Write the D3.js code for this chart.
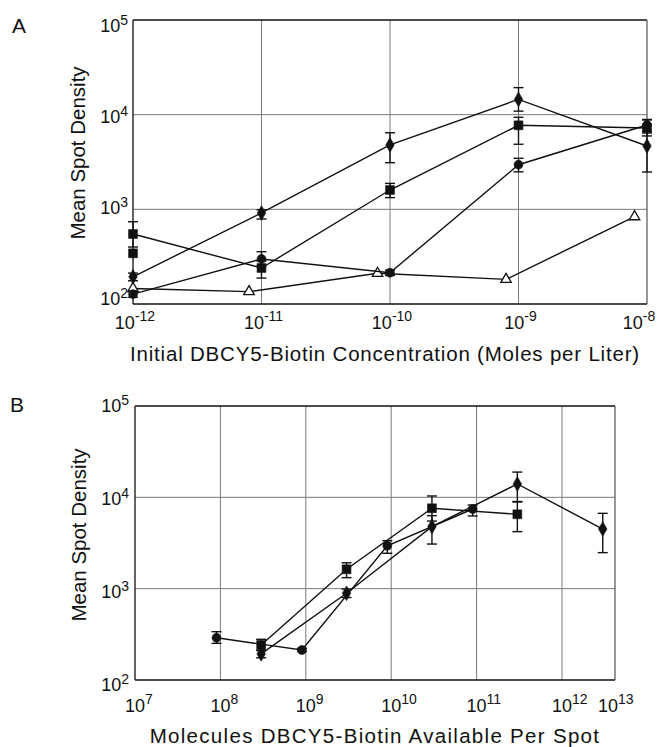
<!DOCTYPE html>
<html>
<head>
<meta charset="utf-8">
<script src="https://cdn.jsdelivr.net/npm/d3@7"></script>
<style>
  html, body { margin: 0; padding: 0; background: #fff; }
  svg { display: block; }
  text { font-family: "Liberation Sans", Arial, Helvetica, sans-serif; fill: #111; }
</style>
</head>
<body>
<svg id="chart" width="661" height="747"></svg>
<script>
// ---- Panel A: spot density vs. initial DBCY5-biotin concentration ----
const concA = [1e-12, 1e-11, 1e-10, 1e-9, 1e-8];
const concTriangleA = [1e-12, 8e-12, 8e-11, 8e-10, 8e-9];

const diamondA   = [194, 915, 4790, 14500, 4670];
const diamondALo = [176, 790, 3110, 10900, 2480];
const diamondAHi = [212, 990, 6440, 19300, 6680];

const squareA   = [549, 240, 1600, 7720, 7230];
const squareALo = [400, 188, 1330, 4870, 5960];
const squareAHi = [740, 285, 1880, 9380, 8790];

const circleA   = [127, 299, 214, 2960, 7780];
const circleALo = [118, 252, 200, 2490, 6400];
const circleAHi = [137, 357, 228, 3460, 8900];

const triangleA = [146, 135, 211, 182, 836];

const extraSquareConcA = [1e-12];
const extraSquareA = [343];

const xTickExpA = [-12, -11, -10, -9, -8];
const yTickExp = [2, 3, 4, 5];

// ---- Panel B: spot density vs. molecules available per spot ----
const molDiamondB = [3e8, 3e9, 3e10, 3e11, 3e12];
const diamondB   = [193, 890, 4780, 14000, 4500];
const diamondBLo = [175, 800, 3080, 9000, 2480];
const diamondBHi = [212, 990, 6300, 18900, 6680];

const molSquareB = [3e8, 3e9, 3e10, 3e11];
const squareB   = [242, 1630, 7590, 6520];
const squareBLo = [210, 1320, 5500, 4210];
const squareBHi = [279, 1920, 10350, 8890];

const molCircleB = [9e7, 9e8, 9e9, 9e10];
const circleB   = [290, 213, 2950, 7450];
const circleBLo = [252, 205, 2440, 6250];
const circleBHi = [338, 222, 3350, 8240];

const xTickExpB = [7, 8, 9, 10, 11, 12, 13];

const svg = d3.select("#chart");

function series(xs, ys, lo, hi) {
  return xs.map((x, i) => ({x, y: ys[i], lo: lo ? lo[i] : null, hi: hi ? hi[i] : null}));
}

function drawGrid(g, x, y, xGrid, yGrid, box) {
  const grid = g.append("g").attr("class", "grid");
  grid.selectAll("line.vx").data(xGrid).join("line")
    .attr("x1", d => x(d)).attr("x2", d => x(d))
    .attr("y1", box.top).attr("y2", box.bottom)
    .attr("stroke", "#7a7a7a").attr("stroke-width", 1);
  grid.selectAll("line.hy").data(yGrid).join("line")
    .attr("x1", box.left).attr("x2", box.right)
    .attr("y1", d => y(d)).attr("y2", d => y(d))
    .attr("stroke", "#7a7a7a").attr("stroke-width", 1);
  const frame = g.append("g").attr("class", "frame");
  frame.append("line").attr("x1", box.left).attr("x2", box.right).attr("y1", box.top).attr("y2", box.top)
    .attr("stroke", "#111").attr("stroke-width", 1.6);
  frame.append("line").attr("x1", box.left).attr("x2", box.right).attr("y1", box.bottom).attr("y2", box.bottom)
    .attr("stroke", "#111").attr("stroke-width", 1.6);
  frame.append("line").attr("x1", box.left).attr("x2", box.left).attr("y1", box.top).attr("y2", box.bottom)
    .attr("stroke", "#222").attr("stroke-width", 1.4);
  frame.append("line").attr("x1", box.right).attr("x2", box.right).attr("y1", box.top).attr("y2", box.bottom)
    .attr("stroke", "#444").attr("stroke-width", 1.1);
}

function drawSeries(g, x, y, data, shape) {
  const line = d3.line().x(d => x(d.x)).y(d => y(d.y));
  g.append("path").datum(data).attr("d", line)
    .attr("fill", "none").attr("stroke", "#111").attr("stroke-width", 1.4);

  const eb = g.append("g").selectAll("g").data(data.filter(d => d.lo != null)).join("g");
  eb.append("line")
    .attr("x1", d => x(d.x)).attr("x2", d => x(d.x))
    .attr("y1", d => y(d.lo)).attr("y2", d => y(d.hi))
    .attr("stroke", "#111").attr("stroke-width", 1.4);
  eb.append("line")
    .attr("x1", d => x(d.x) - 5).attr("x2", d => x(d.x) + 5)
    .attr("y1", d => y(d.lo)).attr("y2", d => y(d.lo))
    .attr("stroke", "#111").attr("stroke-width", 1.4);
  eb.append("line")
    .attr("x1", d => x(d.x) - 5).attr("x2", d => x(d.x) + 5)
    .attr("y1", d => y(d.hi)).attr("y2", d => y(d.hi))
    .attr("stroke", "#111").attr("stroke-width", 1.4);

  drawMarkers(g, x, y, data, shape);
}

function drawMarkers(g, x, y, data, shape) {
  const sym = {
    square:   d3.symbol(d3.symbolSquare, 78),
    diamond:  d3.symbol(d3.symbolDiamond, 62),
    circle:   d3.symbol(d3.symbolCircle, 62),
    triangle: d3.symbol(d3.symbolTriangle, 48)
  }[shape];
  g.append("g").selectAll("path").data(data).join("path")
    .attr("d", sym)
    .attr("transform", d => `translate(${x(d.x)},${y(d.y)})`)
    .attr("fill", shape === "triangle" ? "#fff" : "#111")
    .attr("stroke", "#111").attr("stroke-width", shape === "triangle" ? 1.3 : 0.6);
}

function yTickLabels(g, yLab, xRight) {
  const t = g.append("g").selectAll("text").data(yTickExp).join("text")
    .attr("x", xRight).attr("y", d => yLab(Math.pow(10, d)))
    .attr("text-anchor", "end").style("font-size", "18px");
  t.append("tspan").text("10");
  t.append("tspan").attr("dy", -7).style("font-size", "14px").text(d => d);
}

// ================= Panel A =================
const boxA = {left: 133, right: 647, top: 20, bottom: 304};
const xA = d3.scaleLog().domain([1e-12, 1e-8]).range([boxA.left, boxA.right]);
const yA = d3.scaleLog().domain([1e2, 1e5]).range([boxA.bottom, boxA.top]);
const yLabA = d3.scaleLog().domain([1e2, 1e5]).range([305, 32]);

const gA = svg.append("g");
drawGrid(gA, xA, yA, [1e-11, 1e-10, 1e-9], [1e3, 1e4], boxA);

drawSeries(gA, xA, yA, series(concTriangleA, triangleA), "triangle");
drawSeries(gA, xA, yA, series(concA, circleA, circleALo, circleAHi), "circle");
drawSeries(gA, xA, yA, series(concA, squareA, squareALo, squareAHi), "square");
drawSeries(gA, xA, yA, series(concA, diamondA, diamondALo, diamondAHi), "diamond");
drawMarkers(gA, xA, yA, series(extraSquareConcA, extraSquareA), "square");

yTickLabels(gA, yLabA, 128);

// x tick labels: centred under each decade, the last one kept inside the page
const xtA = gA.append("g").selectAll("text").data(xTickExpA).join("text")
  .attr("x", d => Math.min(xA(Math.pow(10, d)) + 2, 639)).attr("y", 329)
  .attr("text-anchor", "middle").style("font-size", "18px");
xtA.append("tspan").text("10");
xtA.append("tspan").attr("dy", -8).style("font-size", "14px").text(d => d);

gA.append("text").attr("x", 385).attr("y", 361).attr("text-anchor", "middle")
  .style("font-size", "20.5px").style("letter-spacing", "0.8px")
  .text("Initial DBCY5-Biotin Concentration (Moles per Liter)");
gA.append("text").attr("transform", "translate(85,153) rotate(-90)").attr("text-anchor", "middle")
  .style("font-size", "20.5px").text("Mean Spot Density");
gA.append("text").attr("x", 12).attr("y", 33).style("font-size", "21px").text("A");

// ================= Panel B =================
const boxB = {left: 135, right: 615, top: 406, bottom: 680};
const xB = d3.scaleLog().domain([1e7, 1e12]).range([135, 562]);
const xLabB = d3.scaleLog().domain([1e7, 1e12, 1e13]).range([135, 562, 608]);
const yB = d3.scaleLog().domain([1e2, 1e5]).range([boxB.bottom, boxB.top]);
const yLabB = d3.scaleLog().domain([1e2, 1e5]).range([691, 412]);

const gB = svg.append("g");
drawGrid(gB, xB, yB, [1e8, 1e9, 1e10, 1e11, 1e12], [1e3, 1e4], boxB);

drawSeries(gB, xB, yB, series(molCircleB, circleB, circleBLo, circleBHi), "circle");
drawSeries(gB, xB, yB, series(molSquareB, squareB, squareBLo, squareBHi), "square");
drawSeries(gB, xB, yB, series(molDiamondB, diamondB, diamondBLo, diamondBHi), "diamond");

yTickLabels(gB, yLabB, 129);

const xtB = gB.append("g").selectAll("g").data(xTickExpB).join("g");
xtB.append("text").attr("x", d => xLabB(Math.pow(10, d))).attr("y", 712)
  .attr("text-anchor", "middle").style("font-size", "18px").text("10");
xtB.append("text").attr("x", d => xLabB(Math.pow(10, d)) + 10).attr("y", 704)
  .attr("text-anchor", "start").style("font-size", "14px").text(d => d);

gB.append("text").attr("x", 375).attr("y", 743).attr("text-anchor", "middle")
  .style("font-size", "20.5px").style("letter-spacing", "1.3px")
  .text("Molecules DBCY5-Biotin Available Per Spot");
gB.append("text").attr("transform", "translate(86,535) rotate(-90)").attr("text-anchor", "middle")
  .style("font-size", "20.5px").text("Mean Spot Density");
gB.append("text").attr("x", 10).attr("y", 412).style("font-size", "21px").text("B");
</script>
</body>
</html>
